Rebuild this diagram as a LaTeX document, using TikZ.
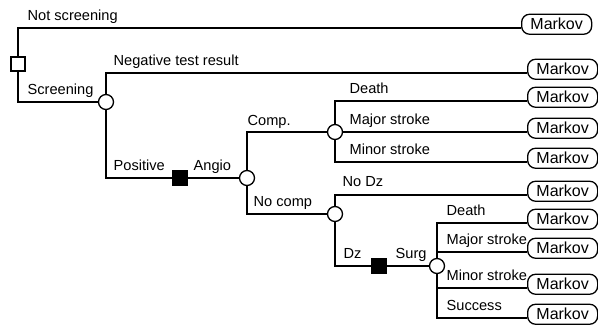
\documentclass[tikz,border=0pt]{standalone}
\usepackage{fontspec}
\setmainfont{Liberation Sans}
\begin{document}
\begin{tikzpicture}[x=1pt,y=-1pt,
  line width=1.3pt,
  chance/.style={circle,draw,fill=white,minimum size=15pt,inner sep=0pt},
  decision/.style={rectangle,draw,fill=white,minimum size=14pt,inner sep=0pt},
  choice/.style={rectangle,draw,fill=black,minimum size=15pt,inner sep=0pt},
  markov/.style={rectangle,draw,rounded corners=8pt,minimum width=70pt,
    minimum height=20pt,inner sep=0pt,anchor=186,font=\fontsize{16}{18}\selectfont},
  lbl/.style={anchor=base west,inner sep=0pt,font=\fontsize{14.6}{17}\selectfont}]
\useasboundingbox (0,0) rectangle (598,326);

% decision and chance nodes
\node[decision] (root)   at (18,64)   {};
\node[chance]   (scr)    at (106,102) {};
\node[choice]   (pos)    at (180,178) {};
\node[chance]   (angio)  at (247,178) {};
\node[chance]   (comp)   at (335,132) {};
\node[chance]   (nocomp) at (335,214) {};
\node[choice]   (dz)     at (379,266) {};
\node[chance]   (surg)   at (437,266) {};

% terminal Markov nodes
\node[markov] (m1)  at (521,28)  {Markov};
\node[markov] (m2)  at (527,73)  {Markov};
\node[markov] (m3)  at (527,101) {Markov};
\node[markov] (m4)  at (527,132) {Markov};
\node[markov] (m5)  at (527,162) {Markov};
\node[markov] (m6)  at (527,195) {Markov};
\node[markov] (m7)  at (527,223) {Markov};
\node[markov] (m8)  at (527,252) {Markov};
\node[markov] (m9)  at (527,288) {Markov};
\node[markov] (m10) at (527,318) {Markov};

% branches
\draw (root.north) |- (m1.186);
\draw (root.south) |- (scr.west);
\draw (scr.north) |- (m2.186);
\draw (scr.south) |- (pos.west);
\draw (pos.east) -- (angio.west);
\draw (angio.north) |- (comp.west);
\draw (angio.south) |- (nocomp.west);
\draw (comp.north) |- (m3.186);
\draw (comp.east) -- (m4.186);
\draw (comp.south) |- (m5.186);
\draw (nocomp.north) |- (m6.186);
\draw (nocomp.south) |- (dz.west);
\draw (dz.east) -- (surg.west);
\draw (surg.north) |- (m7.186);
\draw (surg.north) |- (m8.186);
\draw (surg.south) |- (m9.186);
\draw (surg.south) |- (m10.186);

% branch labels
\node[lbl] (t1)  at (27,21)   {Not screening};
\node[lbl] (t2)  at (113,66)  {Negative test result};
\node[lbl] (t3)  at (27,95)   {Screening};
\node[lbl] (t4)  at (113,171) {Positive};
\node[lbl] (t5)  at (193,171) {Angio};
\node[lbl] (t6)  at (247,126) {Comp.};
\node[lbl] (t7)  at (253,207) {No comp};
\node[lbl] (t8)  at (349,94)  {Death};
\node[lbl] (t9)  at (349,125) {Major stroke};
\node[lbl] (t10) at (349,155) {Minor stroke};
\node[lbl] (t11) at (342,187) {No Dz};
\node[lbl] (t12) at (343,259) {Dz};
\node[lbl] (t13) at (395,259) {Surg};
\node[lbl] (t14) at (446,216) {Death};
\node[lbl] (t15) at (446,245) {Major stroke};
\node[lbl] (t16) at (446,281) {Minor stroke};
\node[lbl] (t17) at (446,311) {Success};
\end{tikzpicture}
\end{document}
